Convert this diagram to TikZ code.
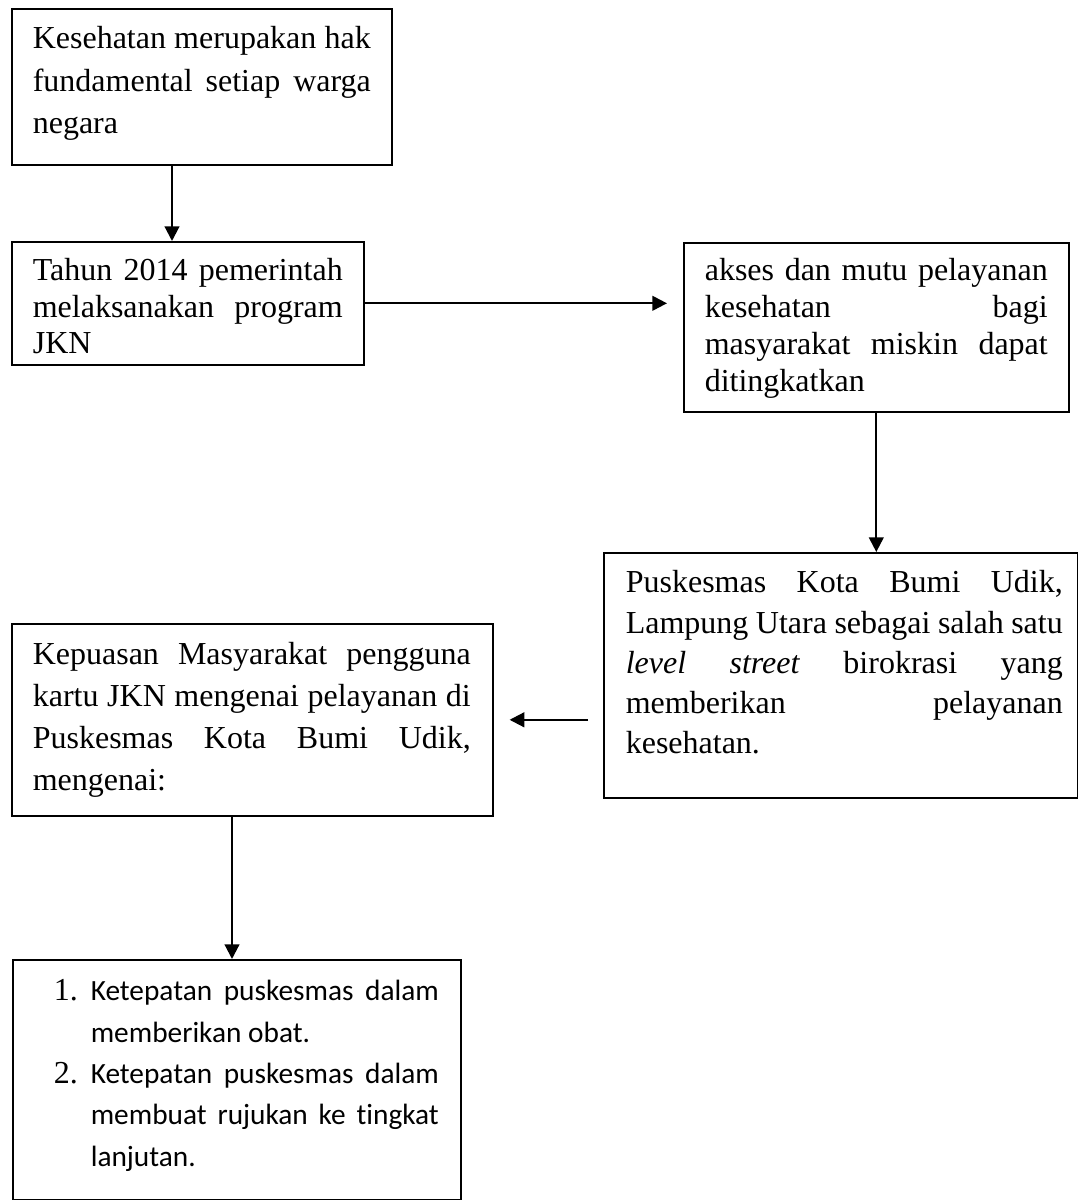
\documentclass[tikz,border=0pt]{standalone}
\usepackage{fontspec}
\setmainfont{Liberation Serif}
\newfontfamily\calibri[Ligatures=NoCommon]{Carlito}
\usepackage{tikz}
\usetikzlibrary{arrows.meta}

% paragraph inside a box: baselineskip, left pad, right pad, top strut, bottom strut, text
\newcommand{\isi}[6]{\fontsize{12pt}{#1}\selectfont\leftskip=#2\rightskip=#3\relax\noindent\rule{0pt}{#4}#6\rule[-#5]{0pt}{0pt}\par}
\newcommand{\nomor}[1]{\llap{{\rmfamily\fontsize{12pt}{15.5pt}\selectfont #1}\hspace{4.875pt}}}

\begin{document}
\begin{tikzpicture}[x=0.375pt, y=-0.375pt,
    kotak/.style={draw, line width=0.6pt, anchor=north west, inner sep=0pt, align=justify},
    panah/.style={->, >={Triangle[length=5.5pt,width=5.5pt]}, line width=0.8pt}]
    \useasboundingbox (0,0) rectangle (1078,1200);

    % Draw the boxes
    \node[kotak, text width=142.5pt] (kesehatan) at (11,8)
        {\isi{15.9375pt}{7.875pt}{7.875pt}{15pt}{11.625pt}{Kesehatan merupakan hak\linebreak fundamental setiap warga\linebreak negara}};
    \node[kotak, text width=132pt] (tahun) at (11,241)
        {\isi{13.6875pt}{7.875pt}{7.875pt}{14.625pt}{4.125pt}{Tahun 2014 pemerintah\linebreak melaksanakan program\linebreak JKN}};
    \node[kotak, text width=144.375pt] (akses) at (683,242)
        {\isi{13.875pt}{7.875pt}{7.875pt}{14.25pt}{7.5pt}{akses dan mutu pelayanan\linebreak kesehatan bagi\linebreak masyarakat miskin dapat\linebreak ditingkatkan}};
    \node[kotak, text width=177.75pt] (puskesmas) at (603,552)
        {\isi{15.09375pt}{8.25pt}{5.625pt}{15pt}{16.5pt}{Puskesmas Kota Bumi Udik,\linebreak Lampung Utara sebagai salah satu\linebreak \textit{level street} birokrasi yang\linebreak memberikan pelayanan\linebreak kesehatan.}};
    \node[kotak, text width=180.375pt] (kepuasan) at (11,623)
        {\isi{15.75pt}{7.875pt}{8.25pt}{15.375pt}{9.375pt}{Kepuasan Masyarakat pengguna\linebreak kartu JKN mengenai pelayanan di\linebreak Puskesmas Kota Bumi Udik,\linebreak mengenai:}};
    \node[kotak, text width=168pt] (ketepatan) at (12,959)
        {\isi{15.5pt}{29.25pt}{8.25pt}{15.375pt}{12.75pt}{\calibri\fontsize{11pt}{15.5pt}\selectfont
        \nomor{1.}Ketepatan puskesmas dalam\linebreak memberikan obat.\par
        \noindent\nomor{2.}Ketepatan puskesmas dalam\linebreak membuat rujukan ke tingkat\linebreak lanjutan.}};

    % Draw the arrows
    \coordinate (k1) at ([xshift=60.375pt]kesehatan.south west);
    \coordinate (k5) at ([xshift=82.875pt]kepuasan.south west);
    \draw[panah] (k1) -- (k1 |- tahun.north);
    \draw[panah, shorten >=6pt] (tahun.east) -- (tahun.east -| akses.west);
    \draw[panah] (akses.south) -- (akses.south |- puskesmas.north);
    \draw[panah, shorten <=5.625pt, shorten >=6pt] (kepuasan.east -| puskesmas.west) -- (kepuasan.east);
    \draw[panah] (k5) -- (k5 |- ketepatan.north);
\end{tikzpicture}
\end{document}
